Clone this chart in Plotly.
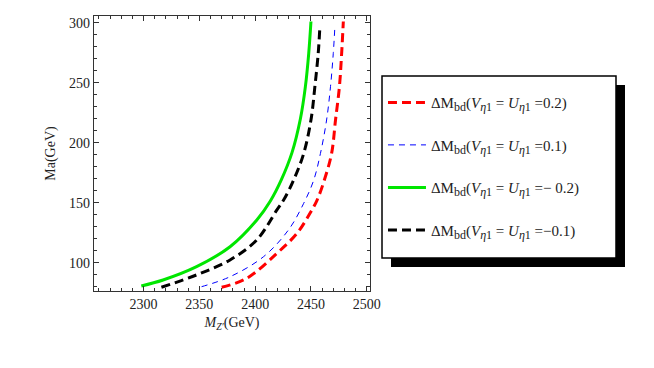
"""Delta M_bd contours in the (M_Z', Ma) plane."""
import plotly.graph_objects as go

# curves (x = M_Z' in GeV, y = Ma in GeV)
red_x = [2370, 2392.5, 2419.5, 2437.5, 2449, 2455.5, 2462, 2468.5, 2472, 2475.5, 2477.5, 2479]
red_y = [79.5, 87, 107.8, 124.5, 141, 152.2, 168.9, 191.1, 218.9, 246.7, 274.5, 301]

blue_x = [2352, 2377.5, 2407.5, 2430, 2443.5, 2452.5, 2458.5, 2464, 2467.5, 2470, 2471.5]
blue_y = [80, 88.3, 105, 127.5, 149.5, 168.9, 191.1, 218.9, 246.7, 274.5, 298]

green_x = [2298, 2317.5, 2347.5, 2377.5, 2401.5, 2413.5, 2423.5, 2433, 2440.5, 2445, 2448, 2450]
green_y = [80.6, 85.6, 96.7, 113.3, 135.6, 151.2, 169.2, 191.7, 219.7, 246.7, 274.5, 301]

black_x = [2316, 2347.5, 2377.5, 2401.5, 2419.5, 2425.5, 2434.5, 2443.5, 2450, 2453.5, 2456.5, 2458]
black_y = [79.5, 89.8, 102.3, 119, 144, 152.2, 168.9, 191.1, 218.9, 246.7, 274.5, 296.7]

labels = ["0.2", "0.1", "\u2212 0.2", "\u22120.1"]

SERIF = "Liberation Serif, Times New Roman, serif"


def lbl(v):
    sub = "<sub><span style='font-size:12px'>%s</span></sub>"
    eta1 = sub % "<i>\u03b7</i>1"
    return ("\u0394M" + sub % "bd" + "(<i>V</i>" + eta1 + " = <i>U</i>"
            + eta1 + " =" + v + ")")


fig = go.Figure()

series = [
    (red_x, red_y, "#ff0000", 3, "9px,5px"),
    (blue_x, blue_y, "#0000ff", 1, "6px,5px"),
    (green_x, green_y, "#00e600", 3, "solid"),
    (black_x, black_y, "#000000", 3, "9px,5px"),
]
for i, (xs, ys, col, w, dash) in enumerate(series):
    fig.add_trace(go.Scatter(
        x=xs, y=ys, mode="lines", line_shape="spline",
        line=dict(color=col, width=w, dash=dash),
        name=lbl(labels[i]), legendgroup=str(i),
    ))

# legend frame with drop shadow
fig.add_shape(type="rect", xref="paper", yref="paper",
              x0=1.0761, x1=1.9239, y0=0.0873, y1=0.7491,
              fillcolor="black", line_width=0, layer="above")
fig.add_shape(type="rect", xref="paper", yref="paper",
              x0=1.0435, x1=1.8913, y0=0.12, y1=0.7818,
              fillcolor="white", line=dict(color="black", width=1.5), layer="above")

axis_common = dict(
    showgrid=False, zeroline=False, showline=True, linecolor="#333",
    linewidth=1.2, mirror="allticks", ticks="inside", ticklen=5,
    tickcolor="#333", tickfont=dict(family=SERIF, size=14, color="#222"),
    minor=dict(dtick=10, ticks="inside", ticklen=3, tickcolor="#333"),
)

fig.update_xaxes(range=[2255.6, 2502.9], dtick=50, tick0=2300,
                 title=dict(text="<i>M</i><sub><i>Z\u2032</i></sub>(GeV)",
                            font=dict(family=SERIF, size=14, color="#222"),
                            standoff=6),
                 **axis_common)
fig.update_yaxes(range=[76.4, 305.6], dtick=50, tick0=100,
                 title=dict(text="Ma(GeV)",
                            font=dict(family=SERIF, size=14, color="#222"),
                            standoff=10),
                 **axis_common)

fig.update_layout(
    width=654, height=368,
    margin=dict(l=94, r=284, t=16, b=77),
    plot_bgcolor="white", paper_bgcolor="white",
    legend=dict(x=1.047, y=0.745, xanchor="left", yanchor="top",
                bgcolor="rgba(0,0,0,0)", borderwidth=0,
                traceorder="grouped", tracegroupgap=20, itemwidth=38,
                font=dict(family=SERIF, size=15, color="#222")),
)

fig.write_html("out.html", config={"displayModeBar": False},
               post_script="document.body.style.margin = '0';")
